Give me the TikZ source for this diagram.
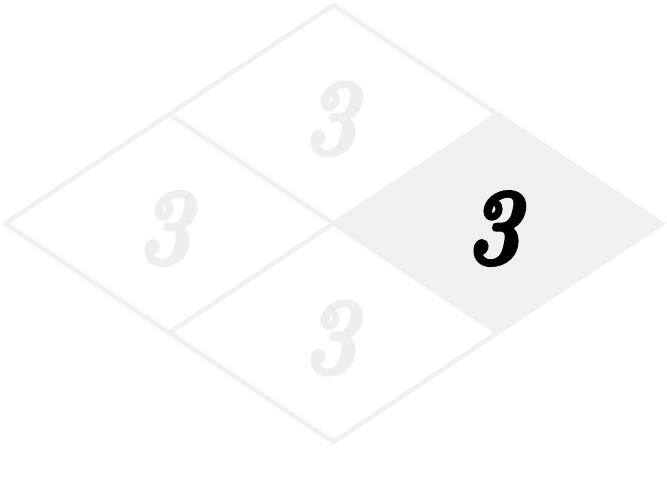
\documentclass[tikz,border=0pt]{standalone}
\usepackage{fontspec}
\usetikzlibrary{calc}
\newfontfamily\digitfont{lmroman10-bolditalic.otf}[FakeBold=3.5]
\definecolor{lightgr}{HTML}{F0F0F0}
\definecolor{digitgr}{HTML}{EEEEEE}
\tikzset{
  cellline/.style={draw=lightgr, line width=4.5pt, line join=miter},
  digit/.style={inner sep=0pt, anchor=center, font=\digitfont\fontsize{108}{108}\selectfont, xscale=0.88},
}
\begin{document}
\begin{tikzpicture}[x=1pt, y=-1pt]
  \useasboundingbox (0,0) rectangle (667,480);
  % corner coordinates
  \coordinate (T) at (333.5,5);
  \coordinate (L) at (5,223.5);
  \coordinate (R) at (662,223.5);
  \coordinate (B) at (333.5,442);
  \coordinate (C) at (333.5,223.5);
  \coordinate (TL) at ($(T)!0.5!(L)$);
  \coordinate (TR) at ($(T)!0.5!(R)$);
  \coordinate (BL) at ($(B)!0.5!(L)$);
  \coordinate (BR) at ($(B)!0.5!(R)$);
  % filled right cell
  \fill[lightgr] (C) -- (TR) -- (R) -- (BR) -- cycle;
  % outline
  \draw[cellline] (T) -- (R) -- (B) -- (L) -- cycle;
  \draw[cellline] (TL) -- (BR);
  \draw[cellline] (TR) -- (BL);
  % digits
  \node[digit, text=digitgr] (ntop) at (330,119) {3};
  \node[digit, text=digitgr] (nleft) at (164,228.5) {3};
  \node[digit, text=black] (nright) at (493,228.5) {3};
  \node[digit, text=digitgr] (nbottom) at (330,338) {3};
\end{tikzpicture}
\end{document}
